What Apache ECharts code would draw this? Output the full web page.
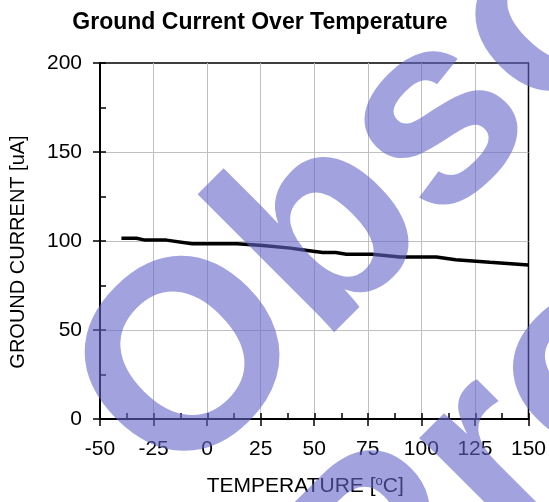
<!DOCTYPE html>
<html>
<head>
<meta charset="utf-8">
<script src="https://cdn.jsdelivr.net/npm/echarts@6/dist/echarts.min.js"></script>
<style>
html,body{margin:0;padding:0;background:#fff;}
#chart{width:549px;height:502px;}
</style>
</head>
<body>
<div id="chart"></div>
<script>
/*
*Ground current vs temperature
*/
var temps=[-40,-33,-29,-19,-7,14,26,39,45,54,60,65,77,90,107,116,132,150];
var currents=[101.5,101.5,100.5,100.5,98.5,98.5,97.5,96,95,93.5,93.5,92.5,92.5,91,91,89.5,88,86.5];
var xTicks=[-50,-25,0,25,50,75,100,125,150];
var yTicks=[0,50,100,150,200];
var watermark=['Obsolete','Product(s)'];

var font='"Liberation Sans", Arial, sans-serif';
var lineData=[];
for(var i=0;i<temps.length;i++){
	lineData.push([temps[i],currents[i]]);
}

var gridPos={left:100,right:20,top:63,bottom:83};

//inside ticks live on a second, bare grid
function bareAxis(min,max,interval){
	return {
		gridIndex:1,type:'value',min:min,max:max,interval:interval,
		axisLine:{show:false,onZero:false},
		axisLabel:{show:false},
		splitLine:{show:false},
		axisTick:{show:true,inside:true,length:6,lineStyle:{color:'#000',width:1.5}}
	};
}

var option={
	backgroundColor:'#fff',
	animation:false,
	title:{
		text:'Ground Current Over Temperature',
		left:255,
		top:6,
		textAlign:'center',
		textStyle:{color:'#000',fontSize:23,fontWeight:'bold',fontFamily:font}
	},
	grid:[
		{left:gridPos.left,right:gridPos.right,top:gridPos.top,bottom:gridPos.bottom,
			show:true,borderColor:'#000',borderWidth:1.5,backgroundColor:'transparent'},
		{left:gridPos.left,right:gridPos.right,top:gridPos.top,bottom:gridPos.bottom}
	],
	xAxis:[{
		gridIndex:0,type:'value',
		min:xTicks[0],max:xTicks[xTicks.length-1],interval:25,
		name:'TEMPERATURE [{sup|o}C]',
		nameLocation:'middle',
		nameGap:56,
		nameTextStyle:{color:'#000',fontSize:21,fontFamily:font,padding:[0,18,0,0],
			rich:{sup:{fontSize:13,color:'#000',fontFamily:font,padding:[0,0,9,0]}}},
		axisLine:{show:true,onZero:false,lineStyle:{color:'#000',width:2}},
		axisTick:{show:true,inside:false,length:7,lineStyle:{color:'#000',width:1.5}},
		axisLabel:{color:'#000',fontSize:21,fontFamily:font,margin:20},
		splitLine:{show:true,showMinLine:false,showMaxLine:false,lineStyle:{color:'#c0c0c0',width:1}}
	},bareAxis(-50,150,12.5)],
	yAxis:[{
		gridIndex:0,type:'value',
		min:yTicks[0],max:yTicks[yTicks.length-1],interval:50,
		name:'GROUND CURRENT [uA]',
		nameLocation:'middle',
		nameGap:72,
		nameTextStyle:{color:'#000',fontSize:20,fontFamily:font,padding:[0,22,0,0]},
		axisLine:{show:true,onZero:false,lineStyle:{color:'#000',width:2}},
		axisTick:{show:true,inside:false,length:7,lineStyle:{color:'#000',width:1.5}},
		axisLabel:{color:'#000',fontSize:21,fontFamily:font,margin:18},
		splitLine:{show:true,showMinLine:false,showMaxLine:false,lineStyle:{color:'#c0c0c0',width:1}}
	},bareAxis(0,200,25)],
	series:[{
		type:'line',
		xAxisIndex:0,yAxisIndex:0,
		data:lineData,
		symbol:'none',
		lineStyle:{color:'#000',width:3.5},
		z:5
	}],
	graphic:[{
		type:'text',x:122,y:440,rotation:Math.PI/4,z:100,silent:true,
		style:{text:watermark[0],font:'bold 268px '+font,fill:'rgba(100,100,200,0.6)',
			align:'left',verticalAlign:'middle',textAlign:'left',textVerticalAlign:'middle'}
	},{
		type:'text',x:328,y:625,rotation:Math.PI/4,z:100,silent:true,
		style:{text:watermark[1],font:'bold 268px '+font,fill:'rgba(100,100,200,0.6)',
			align:'left',verticalAlign:'middle',textAlign:'left',textVerticalAlign:'middle'}
	}]
};

var myChart=echarts.init(document.getElementById('chart'));
myChart.setOption(option);
</script>
</body>
</html>
